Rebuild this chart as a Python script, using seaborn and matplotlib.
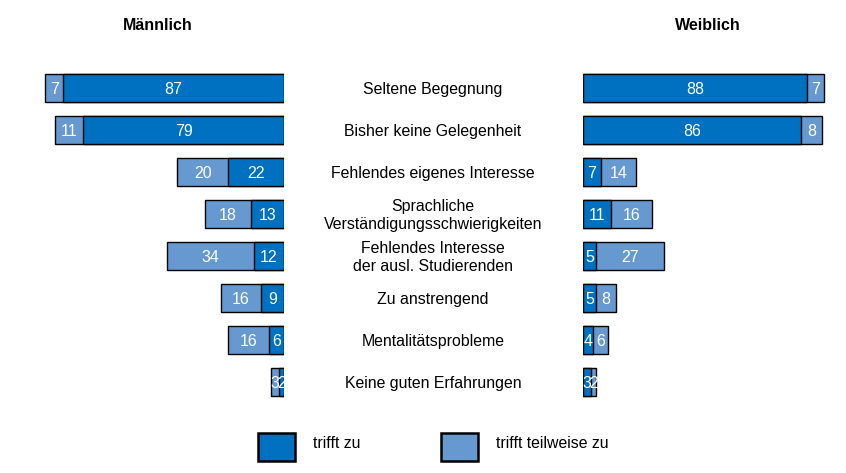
import pandas as pd
import seaborn as sns
import matplotlib.pyplot as plt
import matplotlib.transforms as mtransforms
from matplotlib.patches import Rectangle

# Data
gruende = ['Seltene Begegnung', 'Bisher keine Gelegenheit', 'Fehlendes eigenes Interesse',
           'Sprachliche\nVerständigungsschwierigkeiten', 'Fehlendes Interesse\nder ausl. Studierenden',
           'Zu anstrengend', 'Mentalitätsprobleme', 'Keine guten Erfahrungen']
m_zu = [87, 79, 22, 13, 12, 9, 6, 2]
m_teil = [7, 11, 20, 18, 34, 16, 16, 3]
w_zu = [88, 86, 7, 11, 5, 5, 4, 3]
w_teil = [7, 8, 14, 16, 27, 8, 6, 2]

dark = '#0070C0'
light = '#6699CF'

sns.set_style('white')
plt.rcParams['font.family'] = ['Liberation Sans', 'DejaVu Sans']
plt.rcParams['text.color'] = 'black'

W, H = 846, 473
fig = plt.figure(figsize=(W / 100, H / 100), dpi=100)


def box(x0, y0, x1, y1):
    return [x0 / W, 1 - y1 / H, (x1 - x0) / W, (y1 - y0) / H]


axL = fig.add_axes(box(30, 67, 284, 403))
axR = fig.add_axes(box(583, 67, 837, 403))

for ax, zu, teil in [(axL, m_zu, m_teil), (axR, w_zu, w_teil)]:
    df = pd.DataFrame({'grund': gruende, 'zu': zu, 'teil': teil})
    df['gesamt'] = df['zu'] + df['teil']
    # total bar first (light), "trifft zu" on top of it (dark)
    sns.barplot(data=df, x='gesamt', y='grund', orient='h', color=light, saturation=1,
                edgecolor='black', linewidth=1.0, width=0.667, ax=ax)
    sns.barplot(data=df, x='zu', y='grund', orient='h', color=dark, saturation=1,
                edgecolor='black', linewidth=1.0, width=0.667, ax=ax)
    for i, (a, b) in enumerate(zip(zu, teil)):
        ax.text(a / 2, i + 0.04, str(a), color='white', fontsize=11.5, ha='center', va='center')
        ax.text(a + b / 2, i + 0.04, str(b), color='white', fontsize=11.5, ha='center', va='center')
    ax.set_ylim(7.5, -0.5)
    ax.axis('off')

axL.set_xlim(100, 0)
axR.set_xlim(0, 100)

# reason labels in the middle
trans = mtransforms.blended_transform_factory(fig.transFigure, axL.transData)
for i, g in enumerate(gruende):
    axL.text(433 / W, i + 0.04, g, transform=trans, ha='center', va='center', fontsize=11.4,
             linespacing=1.2, clip_on=False)

fig.text(158 / W, 1 - 26 / H, 'Männlich', ha='center', va='center', fontsize=11.5, fontweight='bold')
fig.text(708 / W, 1 - 26 / H, 'Weiblich', ha='center', va='center', fontsize=11.5, fontweight='bold')

# legend
for x0, col, lab in [(258, dark, 'trifft zu'), (441, light, 'trifft teilweise zu')]:
    fig.patches.append(Rectangle((x0 / W, 1 - 461 / H), 37 / W, 28 / H, transform=fig.transFigure,
                                 facecolor=col, edgecolor='black', linewidth=1.8))
    fig.text((x0 + 55) / W, 1 - 443 / H, lab, ha='left', va='center', fontsize=11.4)

fig.savefig('out.png', dpi=100)
